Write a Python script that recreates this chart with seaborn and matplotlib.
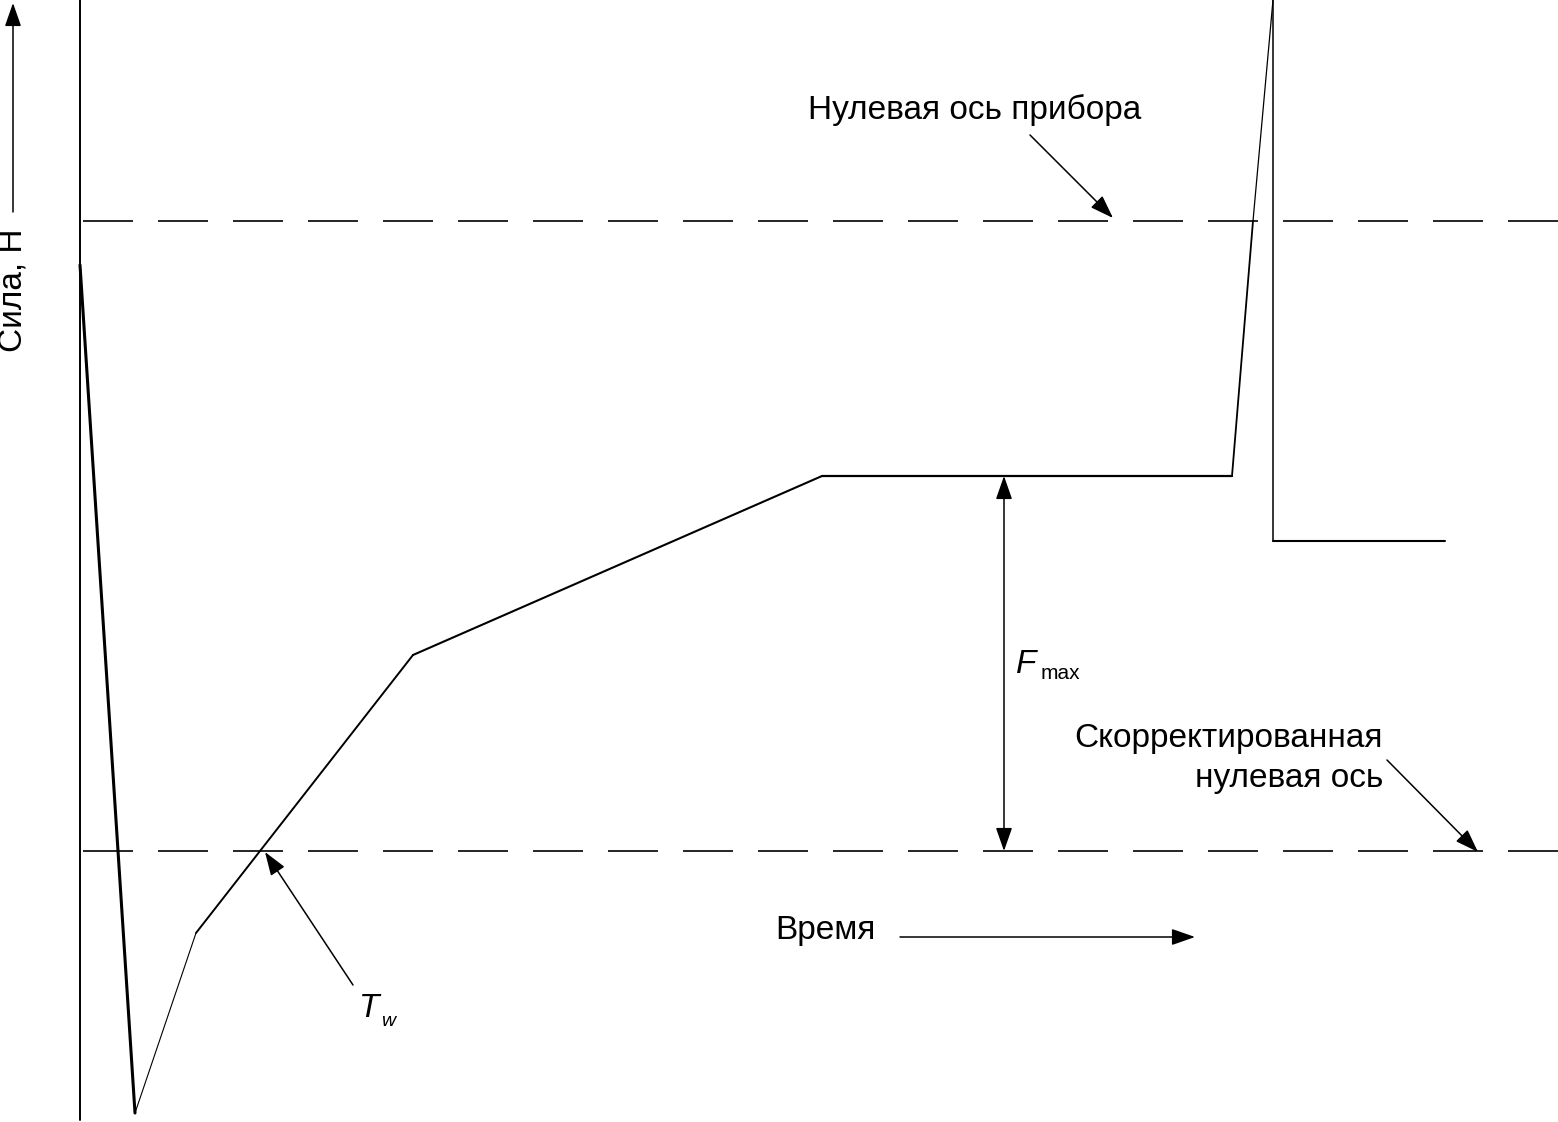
import matplotlib
matplotlib.use("Agg")
import matplotlib.pyplot as plt
import seaborn as sns
import pandas as pd

# ---- data (arbitrary units: time, force relative to corrected zero) ----
time_pts = [0, 55, 116, 333, 742, 1152, 1173, 1193, 1193, 1365]
force_pts = [586, -262, -82, 196, 375, 375, 630, 851, 310, 310]
seg_widths = [2.2, 0.8, 1.4, 1.5, 1.6, 1.3, 0.9, 1.1, 1.5]

instrument_zero = 630
corrected_zero = 0
f_max = 375
t_fmax = 924
t_w = 185

label_y = "Сила, Н"
label_x = "Время"
label_instr = "Нулевая ось прибора"
label_corr1 = "Скорректированная"
label_corr2 = "нулевая ось"

sns.set_theme(style="white")
plt.rcParams["font.family"] = ["Liberation Sans", "DejaVu Sans"]
plt.rcParams["text.color"] = "black"

FS = 24

fig = plt.figure(figsize=(15.58, 11.22), dpi=100)
ax = fig.add_axes([0, 0, 1, 1])
ax.set_xlim(-80, 1478)
ax.set_ylim(-271, 851)
ax.axis("off")

df = pd.DataFrame({"t": time_pts, "f": force_pts})
for i, w in enumerate(seg_widths):
    sub = df.iloc[i:i + 2]
    sns.lineplot(data=sub, x="t", y="f", sort=False, estimator=None,
                 color="black", lw=w, ax=ax)

# vertical axis line
ax.plot([0, 0], [851, -269], color="black", lw=1.4)

# dashed zero lines
for yv in (instrument_zero, corrected_zero):
    ln, = ax.plot([3, 1478], [yv, yv], color="black", lw=1.2)
    ln.set_dashes((30, 15))

arrow_kw = dict(arrowstyle="-|>,head_length=0.8,head_width=0.28",
                mutation_scale=18, color="black", lw=1.1,
                shrinkA=0, shrinkB=0)

# y-axis arrow and label
ax.annotate("", xy=(-67, 848), xytext=(-67, 639), arrowprops=arrow_kw)
ax.text(-67, 561, label_y, rotation=90, ha="center", va="center",
        fontsize=FS, color="black")

# time arrow and label
ax.text(695, -80, label_x, ha="left", va="center", fontsize=FS, color="black")
ax.annotate("", xy=(1115, -86), xytext=(820, -86), arrowprops=arrow_kw)

# instrument zero label
ax.text(895, 741, label_instr, ha="center", va="center", fontsize=FS, color="black")
ax.annotate("", xy=(1033, 633), xytext=(950, 716), arrowprops=arrow_kw)

# corrected zero label
ax.text(1303, 113, label_corr1, ha="right", va="center", fontsize=FS, color="black")
ax.text(1303, 73, label_corr2, ha="right", va="center", fontsize=FS, color="black")
ax.annotate("", xy=(1398, -1), xytext=(1307, 91), arrowprops=arrow_kw)

# F_max double arrow
dbl_kw = dict(arrow_kw)
dbl_kw["arrowstyle"] = "<|-|>,head_length=0.8,head_width=0.28"
ax.annotate("", xy=(t_fmax, f_max), xytext=(t_fmax, corrected_zero), arrowprops=dbl_kw)
ax.text(936, 178, "F", style="italic", ha="left", va="baseline", fontsize=FS, color="black")
ax.text(961, 172, "max", ha="left", va="baseline", fontsize=15, color="black")

# T_w
ax.annotate("", xy=(t_w, -1), xytext=(273, -134), arrowprops=arrow_kw)
ax.text(279, -166, "T", style="italic", ha="left", va="baseline", fontsize=FS, color="black")
ax.text(301, -175, "w", style="italic", ha="left", va="baseline", fontsize=14, color="black")

fig.savefig("out.png", dpi=100, facecolor="white")
